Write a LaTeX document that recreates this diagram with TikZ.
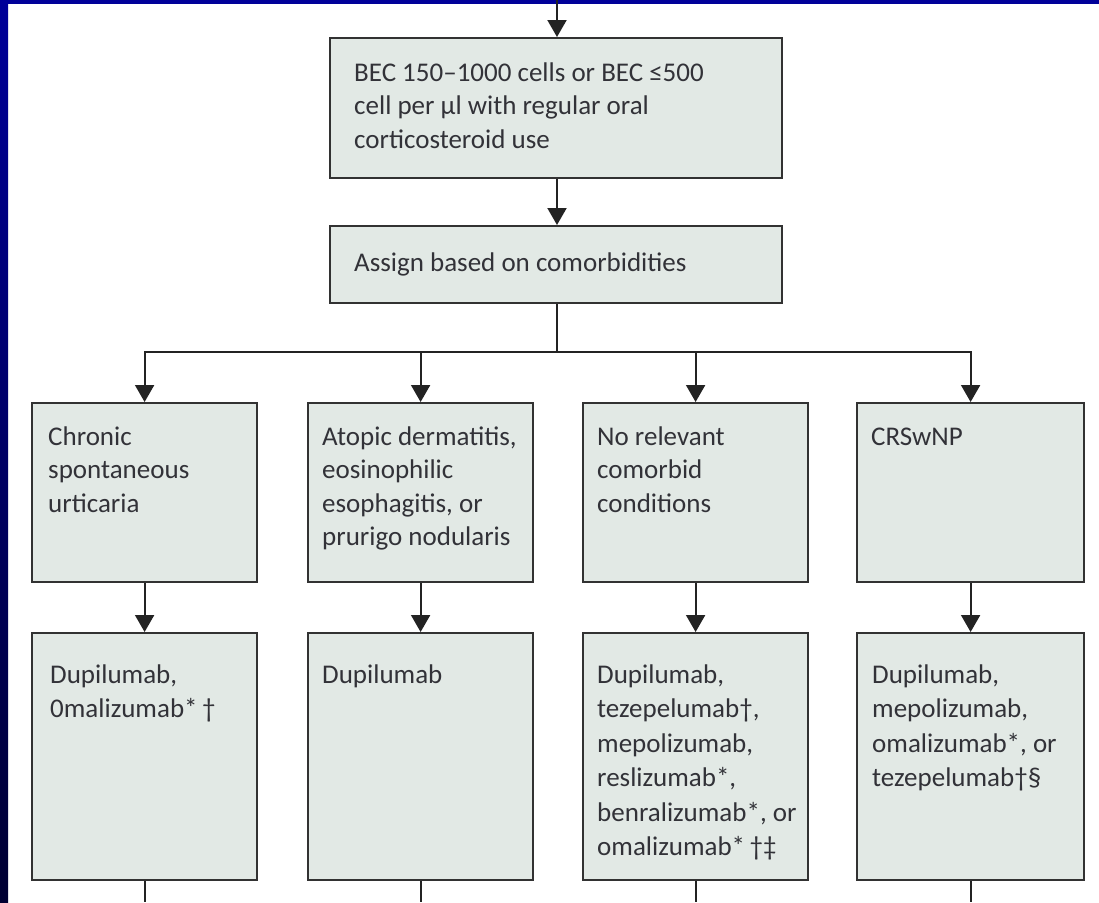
\documentclass[tikz,border=0pt]{standalone}
\usepackage{fontspec}
\setmainfont{Carlito}
\usetikzlibrary{arrows.meta}
\definecolor{bandblue}{RGB}{0,0,153}
\definecolor{banddark}{RGB}{0,0,50}
\definecolor{boxfill}{RGB}{226,233,229}
\definecolor{boxline}{RGB}{50,50,50}
\definecolor{arrline}{RGB}{35,35,35}
\definecolor{txt}{RGB}{50,50,56}
\newcommand{\tlines}[1]{\begin{tabular}[t]{@{}l@{}}#1\end{tabular}}
\begin{document}
\begin{tikzpicture}[x=1pt,y=-1pt,
  box/.style={draw=boxline, line width=2.2pt, fill=boxfill, rectangle, inner sep=0pt, anchor=north west},
  lbl/.style={anchor=base west, inner sep=0pt, text=txt, font=\fontsize{27}{33.5}\selectfont},
  lbltwo/.style={lbl, font=\fontsize{27}{34.5}\selectfont},
  arr/.style={draw=arrline, line width=2pt, -{Triangle[width=19pt,length=17pt]}},
  ln/.style={draw=arrline, line width=2pt}]
\useasboundingbox (0,0) rectangle (1099,902);
\fill[white] (0,0) rectangle (1099,902);
\shade[top color=bandblue, bottom color=banddark] (0,0) rectangle (8,902);
\fill[bandblue] (0,0) rectangle (1099,3.5);

\coordinate (c0) at (557,0);
\coordinate (hy) at (0,352);
\coordinate (bot) at (0,902);

% boxes
\node[box, minimum width=452pt, minimum height=140pt] (b1) at (329,37) {};
\node[box, minimum width=452pt, minimum height=77pt] (b2) at (329,225) {};

\node[box, minimum width=225pt, minimum height=179pt] (a1) at (31,402) {};
\node[box, minimum width=225pt, minimum height=179pt] (a2) at (307,402) {};
\node[box, minimum width=225pt, minimum height=179pt] (a3) at (582,402) {};
\node[box, minimum width=227pt, minimum height=179pt] (a4) at (856,402) {};

\node[box, minimum width=225pt, minimum height=247pt] (d1) at (31,632) {};
\node[box, minimum width=225pt, minimum height=247pt] (d2) at (307,632) {};
\node[box, minimum width=225pt, minimum height=247pt] (d3) at (582,632) {};
\node[box, minimum width=227pt, minimum height=247pt] (d4) at (856,632) {};

% texts
\node[lbl] (t1) at (354,81) {\tlines{BEC 150–1000 cells or BEC ≤500\\cell per μl with regular oral\\corticosteroid use}};
\node[lbl] (t2) at (354,271) {Assign based on comorbidities};

\node[lbl] (ta1) at (48,445) {\tlines{Chronic\\spontaneous\\urticaria}};
\node[lbl] (ta2) at (322,445) {\tlines{Atopic dermatitis,\\eosinophilic\\esophagitis, or\\prurigo nodularis}};
\node[lbl] (ta3) at (597,445) {\tlines{No relevant\\comorbid\\conditions}};
\node[lbl] (ta4) at (871,445) {CRSwNP};

\node[lbltwo] (td1) at (50,683) {\tlines{Dupilumab,\\0malizumab*\,†}};
\node[lbltwo] (td2) at (322,683) {Dupilumab};
\node[lbltwo] (td3) at (597,683) {\tlines{Dupilumab,\\tezepelumab†,\\mepolizumab,\\reslizumab*,\\benralizumab*, or\\omalizumab*\,†‡}};
\node[lbltwo] (td4) at (872,683) {\tlines{Dupilumab,\\mepolizumab,\\omalizumab*, or\\tezepelumab†§}};

% connectors
\draw[arr] (c0) -- (b1.north -| c0);
\draw[arr] (b1.south -| c0) -- (b2.north -| c0);
\draw[ln] (b2.south -| c0) -- (c0 |- hy);
\draw[arr] (c0 |- hy) -| (a1.north);
\draw[arr] (c0 |- hy) -| (a2.north);
\draw[arr] (c0 |- hy) -| (a3.north);
\draw[arr] (c0 |- hy) -| (a4.north);

\draw[arr] (a1.south) -- (d1.north);
\draw[arr] (a2.south) -- (d2.north);
\draw[arr] (a3.south) -- (d3.north);
\draw[arr] (a4.south) -- (d4.north);

\coordinate (e1) at (d1.south |- bot);
\coordinate (e2) at (d2.south |- bot);
\coordinate (e3) at (d3.south |- bot);
\coordinate (e4) at (d4.south |- bot);
\draw[ln] (d1.south) -- (e1);
\draw[ln] (d2.south) -- (e2);
\draw[ln] (d3.south) -- (e3);
\draw[ln] (d4.south) -- (e4);
\end{tikzpicture}
\end{document}
